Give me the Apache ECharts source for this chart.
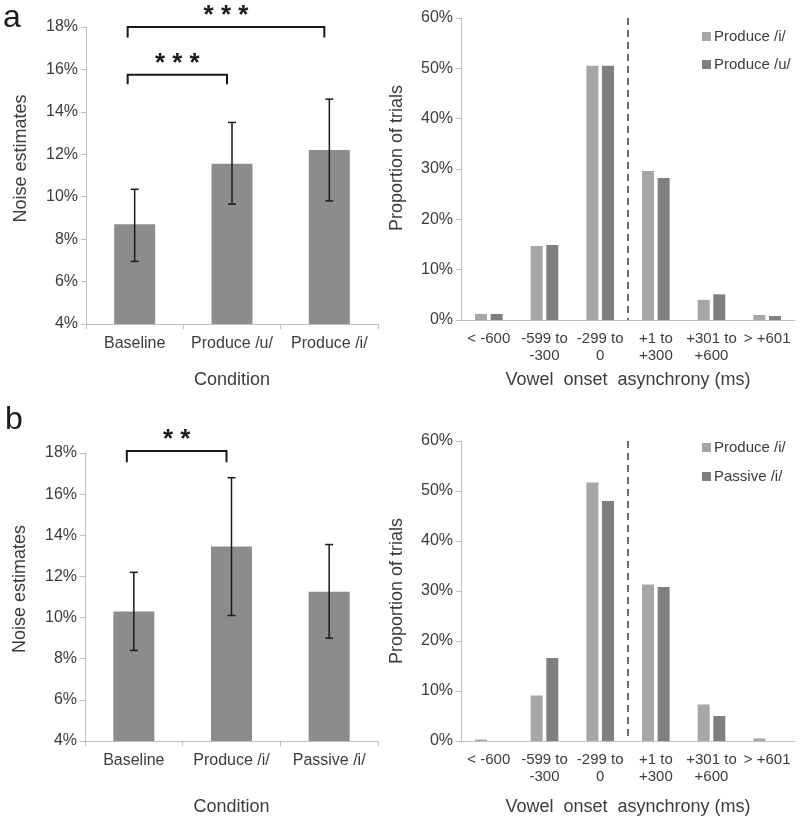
<!DOCTYPE html>
<html>
<head>
<meta charset="utf-8">
<script src="https://cdn.jsdelivr.net/npm/echarts@6/dist/echarts.min.js"></script>
<style>
  html, body { margin: 0; padding: 0; background: #fff; }
  #main { width: 800px; height: 818px; }
</style>
</head>
<body>
<div id="main"></div>
<script>
// panel a, left: noise estimates (%)
const condA = ['Baseline', 'Produce /u/', 'Produce /i/'];
const noiseA = [8.7, 11.55, 12.2];
const errLowA = [6.95, 9.65, 9.8];
const errHighA = [10.35, 13.5, 14.6];
// panel b, left
const condB = ['Baseline', 'Produce /i/', 'Passive /i/'];
const noiseB = [10.3, 13.45, 11.25];
const errLowB = [8.4, 10.1, 9.0];
const errHighB = [12.2, 16.8, 13.55];
// significance brackets: [fromIdx, toIdx, top, leg end, stars]
const bracketsA = [[0, 2, 18, 17.5, '* * *'], [0, 1, 15.75, 15.3, '* * *']];
const bracketsB = [[0, 1, 18.1, 17.55, '* *']];
// right panels: proportion of trials (%)
const asyncBins = ['< -600', '-599 to\n-300', '-299 to\n0', '+1 to\n+300', '+301 to\n+600', '> +601'];
const produceI_A = [1.2, 14.7, 50.5, 29.6, 4.0, 1.0];
const produceU_A = [1.2, 14.9, 50.5, 28.2, 5.1, 0.8];
const produceI_B = [0.3, 9.1, 51.7, 31.3, 7.3, 0.5];
const passiveI_B = [0, 16.6, 48.0, 30.8, 5.0, 0];
const noiseTicks = { min: 4, max: 18, interval: 2 };
const propTicks = { min: 0, max: 60, interval: 10 };

const FONT = 'Liberation Sans, Arial, sans-serif';
const TXT = '#3c3c3c';
const AXIS = '#c0c0c0';

const chart = echarts.init(document.getElementById('main'));

function errRender(params, api) {
  const top = api.coord([api.value(0), api.value(2)]);
  const bot = api.coord([api.value(0), api.value(1)]);
  const st = { stroke: '#1a1a1a', lineWidth: 1.5 };
  return {
    type: 'group',
    children: [
      { type: 'line', shape: { x1: top[0], y1: top[1], x2: bot[0], y2: bot[1] }, style: st },
      { type: 'line', shape: { x1: top[0] - 4, y1: top[1], x2: top[0] + 4, y2: top[1] }, style: st },
      { type: 'line', shape: { x1: bot[0] - 4, y1: bot[1], x2: bot[0] + 4, y2: bot[1] }, style: st }
    ]
  };
}

function bracketRender(params, api) {
  const a = api.coord([api.value(0), api.value(2)]);
  const b = api.coord([api.value(1), api.value(2)]);
  const leg = api.coord([api.value(0), api.value(3)]);
  const x1 = a[0] - 7, x2 = b[0] - 5, y = a[1], y2 = leg[1];
  const st = { stroke: '#1a1a1a', lineWidth: 2, fill: null };
  return {
    type: 'group',
    children: [
      { type: 'polyline', shape: { points: [[x1, y2], [x1, y], [x2, y], [x2, y2]] }, style: st },
      { type: 'text', x: (x1 + x2) / 2, y: y - 11,
        style: { text: api.value(4), fill: '#1a1a1a', font: 'bold 26px ' + FONT,
                 align: 'center', verticalAlign: 'middle' } }
    ]
  };
}

function dashRender(params, api) {
  const p = api.coord([2, propTicks.max]);
  const q = api.coord([3, propTicks.min]);
  const x = (p[0] + q[0]) / 2;
  return {
    type: 'line',
    shape: { x1: x, y1: p[1], x2: x, y2: q[1] },
    style: { stroke: '#6a6a6a', lineWidth: 2, lineDash: [7, 5] }
  };
}

function leftY(idx, pad) {
  return {
    gridIndex: idx, type: 'value', min: noiseTicks.min, max: noiseTicks.max, interval: noiseTicks.interval,
    name: 'Noise estimates', nameLocation: 'middle', nameGap: 56,
    nameTextStyle: { fontFamily: FONT, fontSize: 18, color: TXT, padding: [0, 0, 0, pad] },
    axisLine: { show: true, lineStyle: { color: AXIS } },
    axisTick: { show: true, length: 5, lineStyle: { color: AXIS } },
    axisLabel: { formatter: '{value}%', fontFamily: FONT, fontSize: 16, color: TXT, margin: 8 },
    splitLine: { show: false }
  };
}
function rightY(idx, pad) {
  return {
    gridIndex: idx, type: 'value', min: propTicks.min, max: propTicks.max, interval: propTicks.interval,
    name: 'Proportion of trials', nameLocation: 'middle', nameGap: 55,
    nameTextStyle: { fontFamily: FONT, fontSize: 18, color: TXT, padding: [0, 0, 0, pad] },
    axisLine: { show: true, lineStyle: { color: AXIS } },
    axisTick: { show: true, length: 5, lineStyle: { color: AXIS } },
    axisLabel: { formatter: '{value}%', fontFamily: FONT, fontSize: 16, color: TXT, margin: 8 },
    splitLine: { show: false }
  };
}
function leftX(idx, cats, gap) {
  return {
    gridIndex: idx, type: 'category', data: cats,
    name: 'Condition', nameLocation: 'middle', nameGap: gap,
    nameTextStyle: { fontFamily: FONT, fontSize: 18, color: TXT },
    axisLine: { lineStyle: { color: AXIS } },
    axisTick: { show: true, length: 5, lineStyle: { color: AXIS } },
    axisLabel: { fontFamily: FONT, fontSize: 16, color: TXT, margin: 12, interval: 0 }
  };
}
function rightX(idx, gap) {
  return {
    gridIndex: idx, type: 'category', data: asyncBins,
    name: 'Vowel  onset  asynchrony (ms)', nameLocation: 'middle', nameGap: gap,
    nameTextStyle: { fontFamily: FONT, fontSize: 18, color: TXT },
    axisLine: { lineStyle: { color: AXIS } },
    axisTick: { show: false },
    axisLabel: { fontFamily: FONT, fontSize: 15, color: TXT, margin: 10, interval: 0, lineHeight: 17 }
  };
}

const legendBase = {
  orient: 'vertical', left: 702, padding: 0, itemWidth: 9, itemHeight: 9, itemGap: 14, icon: 'rect',
  textStyle: { fontFamily: FONT, fontSize: 15, color: TXT, padding: [0, 0, 0, -2] }, selectedMode: false
};

const option = {
  backgroundColor: '#ffffff',
  animation: false,
  grid: [
    { left: 86, top: 27, width: 292, height: 297 },
    { left: 461, top: 18, width: 334, height: 302 },
    { left: 85, top: 453, width: 293, height: 288 },
    { left: 461, top: 441, width: 334, height: 300 }
  ],
  xAxis: [leftX(0, condA, 47), rightX(1, 51), leftX(2, condB, 57), rightX(3, 57)],
  yAxis: [leftY(0, 34), rightY(1, 22), leftY(2, 16), rightY(3, 0)],
  legend: [
    Object.assign({}, legendBase, { top: 29, itemGap: 13, data: ['Produce /i/', 'Produce /u/'] }),
    Object.assign({}, legendBase, { top: 440, data: ['Produce /i/ ', 'Passive /i/'] })
  ],
  graphic: [
    { type: 'text', left: 3, top: 2, style: { text: 'a', font: '32px ' + FONT, fill: '#1a1a1a' } },
    { type: 'text', left: 5, top: 404, style: { text: 'b', font: '32px ' + FONT, fill: '#1a1a1a' } }
  ],
  series: [
    { type: 'bar', xAxisIndex: 0, yAxisIndex: 0, data: noiseA, barWidth: 41, itemStyle: { color: '#8c8c8c' } },
    { type: 'custom', xAxisIndex: 0, yAxisIndex: 0, renderItem: errRender,
      data: condA.map((c, i) => [i, errLowA[i], errHighA[i]]), z: 5 },
    { type: 'custom', xAxisIndex: 0, yAxisIndex: 0, renderItem: bracketRender, data: bracketsA, clip: false, z: 5 },

    { type: 'bar', name: 'Produce /i/', xAxisIndex: 1, yAxisIndex: 1, data: produceI_A, barWidth: 12, barGap: '30%',
      itemStyle: { color: '#a6a6a6' } },
    { type: 'bar', name: 'Produce /u/', xAxisIndex: 1, yAxisIndex: 1, data: produceU_A, barWidth: 12,
      itemStyle: { color: '#7f7f7f' } },
    { type: 'custom', xAxisIndex: 1, yAxisIndex: 1, renderItem: dashRender, data: [[0]], z: 5 },

    { type: 'bar', xAxisIndex: 2, yAxisIndex: 2, data: noiseB, barWidth: 41, itemStyle: { color: '#8c8c8c' } },
    { type: 'custom', xAxisIndex: 2, yAxisIndex: 2, renderItem: errRender,
      data: condB.map((c, i) => [i, errLowB[i], errHighB[i]]), z: 5 },
    { type: 'custom', xAxisIndex: 2, yAxisIndex: 2, renderItem: bracketRender, data: bracketsB, clip: false, z: 5 },

    { type: 'bar', name: 'Produce /i/ ', xAxisIndex: 3, yAxisIndex: 3, data: produceI_B, barWidth: 12, barGap: '30%',
      itemStyle: { color: '#a6a6a6' } },
    { type: 'bar', name: 'Passive /i/', xAxisIndex: 3, yAxisIndex: 3, data: passiveI_B, barWidth: 12,
      itemStyle: { color: '#7f7f7f' } },
    { type: 'custom', xAxisIndex: 3, yAxisIndex: 3, renderItem: dashRender, data: [[0]], z: 5 }
  ]
};

chart.setOption(option);
</script>
</body>
</html>
